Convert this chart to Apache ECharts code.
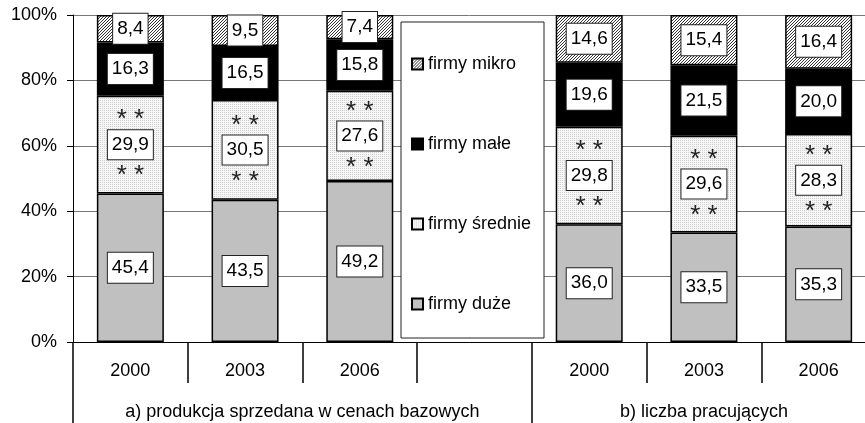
<!DOCTYPE html>
<html>
<head>
<meta charset="utf-8">
<script src="https://cdn.jsdelivr.net/npm/echarts@6/dist/echarts.min.js"></script>
<style>html,body{margin:0;padding:0;background:#fff;}#c{width:865px;height:423px;}</style>
</head>
<body>
<div id="c"></div>
<script>
const categories = ['2000', '2003', '2006', '', '2000', '2003', '2006'];
const groupLabels = ['a) produkcja sprzedana w cenach bazowych', 'b) liczba pracujących'];
const seriesNames = ['firmy mikro', 'firmy małe', 'firmy średnie', 'firmy duże'];
const duze = [45.4, 43.5, 49.2, null, 36.0, 33.5, 35.3];
const srednie = [29.9, 30.5, 27.6, null, 29.8, 29.6, 28.3];
const male = [16.3, 16.5, 15.8, null, 19.6, 21.5, 20.0];
const mikro = [8.4, 9.5, 7.4, null, 14.6, 15.4, 16.4];
const yTicks = [0, 20, 40, 60, 80, 100];

const FONT = 'Liberation Sans, Arial, sans-serif';

function makePattern(size, draw) {
  const c = document.createElement('canvas');
  c.width = size; c.height = size;
  const ctx = c.getContext('2d');
  draw(ctx);
  return { image: c, repeat: 'repeat' };
}
const hatch = makePattern(3, ctx => {
  ctx.fillStyle = '#fff'; ctx.fillRect(0, 0, 3, 3);
  ctx.fillStyle = '#333';
  for (let i = 0; i < 3; i++) ctx.fillRect(i, 2 - i, 1, 1);
});
const dots = makePattern(2, ctx => {
  ctx.fillStyle = '#f6f6f6'; ctx.fillRect(0, 0, 2, 2);
  ctx.fillStyle = '#d0d0d0'; ctx.fillRect(0, 0, 1, 1);
});

const fmt = v => Number(v).toFixed(1).replace('.', ',');
const boxStyle = {
  backgroundColor: '#fff', borderColor: '#222', borderWidth: 1,
  padding: [5, 4, 5, 4], color: '#000', fontSize: 19, lineHeight: 20, fontFamily: FONT
};

// half-slot points 0..7 for group ticks / labels
const groupAxisData = [];
for (let i = 0; i <= 14; i++) {
  if (i === 4) groupAxisData.push(groupLabels[0]);
  else if (i === 11) groupAxisData.push(groupLabels[1]);
  else groupAxisData.push('');
}

function barSeries(name, data, color, isMid) {
  return {
    name: name, type: 'bar', stack: 'total', data: data,
    barWidth: 67, xAxisIndex: 0,
    itemStyle: { color: color, borderColor: '#000', borderWidth: 1.5 },
    label: isMid ? {
      show: true, position: 'inside',
      formatter: p => '{s|* *}\n{b|' + fmt(p.value) + '}\n{s|* *}',
      rich: {
        s: { fontSize: 26, lineHeight: 36, color: '#222', fontFamily: FONT, padding: [7, 0, 0, 0] },
        b: boxStyle
      }
    } : Object.assign({ show: true, position: 'inside', formatter: p => fmt(p.value) }, boxStyle)
  };
}

const chart = echarts.init(document.getElementById('c'), null, { renderer: 'canvas' });
chart.setOption({
  animation: false,
  textStyle: { fontFamily: FONT },
  grid: { left: 73, right: -11, top: 15, bottom: 81, containLabel: false, outerBoundsMode: 'none' },
  legend: {
    orient: 'vertical', left: 406, top: 50, itemGap: 62, icon: 'rect',
    itemWidth: 11, itemHeight: 11, selectedMode: false,
    data: seriesNames,
    textStyle: { fontSize: 18, color: '#000', fontFamily: FONT },
    z: 10
  },
  graphic: [{
    type: 'rect', z: 5,
    shape: { x: 401, y: 22, width: 143, height: 316 },
    style: { fill: '#fff', stroke: '#222', lineWidth: 1 }
  }],
  xAxis: [{
    type: 'category', data: categories, position: 'bottom',
    axisLine: { show: true, lineStyle: { color: '#000', width: 1 } },
    axisTick: { show: true, interval: 0, length: 41, inside: false, lineStyle: { color: '#000', width: 1.5 } },
    axisLabel: { interval: 0, margin: 20, fontSize: 18, color: '#000', fontFamily: FONT }
  }, {
    type: 'category', data: groupAxisData, position: 'bottom', boundaryGap: false,
    axisLine: { show: false },
    axisTick: { show: true, length: 81, interval: (i) => i === 0 || i === 8,
      lineStyle: { color: '#000', width: 1.5 } },
    axisLabel: { interval: 0, margin: 61, fontSize: 18, color: '#000', fontFamily: FONT },
    splitLine: { show: false }
  }],
  yAxis: {
    type: 'value', min: yTicks[0], max: yTicks[yTicks.length - 1], interval: yTicks[1] - yTicks[0],
    axisLine: { show: true, lineStyle: { color: '#000' } },
    axisTick: { show: true, length: 6, lineStyle: { color: '#000' } },
    axisLabel: { formatter: '{value}%', margin: 16, fontSize: 18, color: '#000', fontFamily: FONT },
    splitLine: { lineStyle: { color: '#777', width: 1 } }
  },
  series: [
    barSeries(seriesNames[3], duze, '#c0c0c0', false),
    barSeries(seriesNames[2], srednie, dots, true),
    barSeries(seriesNames[1], male, '#000', false),
    barSeries(seriesNames[0], mikro, hatch, false)
  ]
});
</script>
</body>
</html>
